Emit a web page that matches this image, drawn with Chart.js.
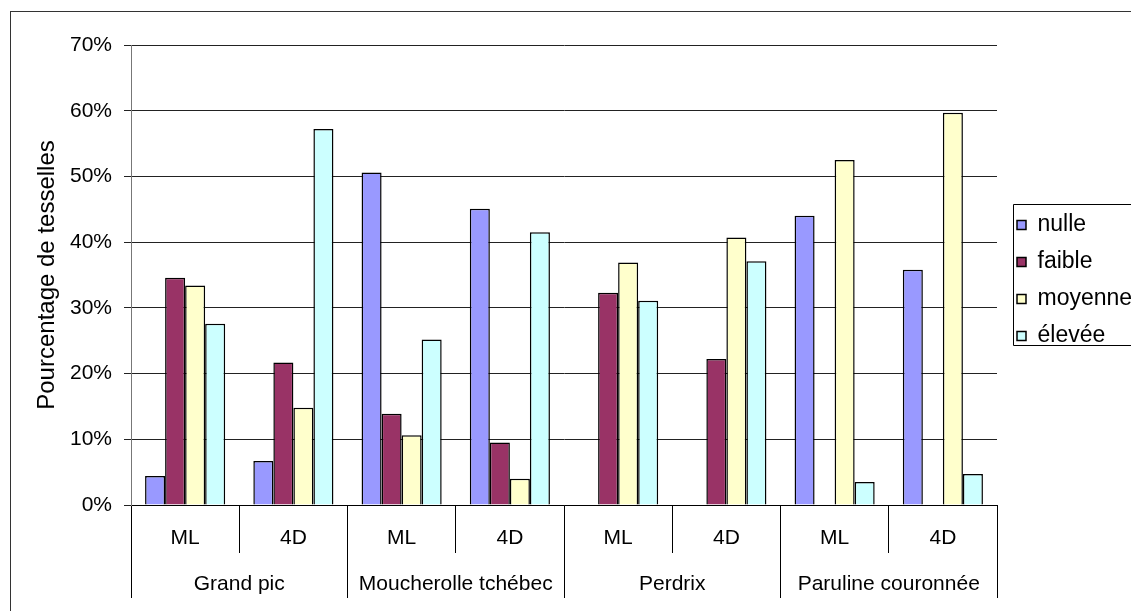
<!DOCTYPE html>
<html>
<head>
<meta charset="utf-8">
<script src="https://cdn.jsdelivr.net/npm/chart.js@4/dist/chart.umd.min.js"></script>
<style>
html,body{margin:0;padding:0;background:#fff;overflow:hidden;width:1131px;height:611px;}
#frame{position:absolute;left:10px;top:11px;width:2000px;height:2000px;border-left:1px solid #333;border-top:1px solid #333;}
#c{position:absolute;left:0;top:0;}
</style>
</head>
<body>
<div id="frame"></div>
<canvas id="c" width="1131" height="611"></canvas>
<script>
const categories = ['ML','4D','ML','4D','ML','4D','ML','4D'];
const species = ['Grand pic','Moucherolle tchébec','Perdrix','Paruline couronnée'];
const seriesNames = ['nulle','faible','moyenne','élevée'];
const nulle   = [4.4, 6.7, 50.6, 45.1, 0, 0, 44.0, 35.8];
const faible  = [34.6, 21.7, 13.9, 9.5, 32.3, 22.2, 0, 0];
const moyenne = [33.4, 14.8, 10.6, 4.0, 36.9, 40.7, 52.5, 59.7];
const elevee  = [27.6, 57.2, 25.2, 41.5, 31.1, 37.1, 3.5, 4.7];
const yTicks = [0,10,20,30,40,50,60,70];
const colors = ['#9999FF','#993366','#FFFFCC','#CCFFFF'];

const FONT = "'Liberation Sans', Arial, sans-serif";
Chart.defaults.font.family = FONT;
Chart.defaults.color = '#000';

const legendBox = {
  id:'legendBox',
  afterDraw(chart){
    const lg = chart.legend;
    if(!lg || !lg.legendHitBoxes || !lg.legendHitBoxes.length) return;
    const hb = lg.legendHitBoxes;
    const ctx = chart.ctx;
    const x = Math.round(lg.left + 10) + 0.5;
    const first = hb[0], last = hb[hb.length-1];
    const top = Math.round(first.top + first.height/2 - 21) + 0.5;
    const bottom = Math.round(last.top + last.height/2 + 9) + 0.5;
    ctx.save();
    ctx.strokeStyle = '#000';
    ctx.lineWidth = 1;
    ctx.beginPath();
    ctx.moveTo(chart.width + 5, top);
    ctx.lineTo(x, top);
    ctx.lineTo(x, bottom);
    ctx.lineTo(chart.width + 5, bottom);
    ctx.stroke();
    ctx.restore();
  }
};

new Chart(document.getElementById('c'), {
  type:'bar',
  data:{
    labels: categories,
    datasets: [nulle, faible, moyenne, elevee].map((d,i)=>({
      label: seriesNames[i],
      data: d,
      backgroundColor: colors[i],
      borderColor: '#000',
      borderWidth: 1.5,
      categoryPercentage: 0.74,
      barPercentage: 1.0,
      xAxisID: 'x',
      yAxisID: 'y'
    }))
  },
  options:{
    responsive:false,
    animation:false,
    devicePixelRatio:1,
    layout:{padding:{left:30, top:45, bottom:13, right:0}},
    plugins:{
      tooltip:{enabled:false},
      legend:{
        position:'right',
        fullSize:false,
        maxWidth:128,
        title:{display:true, text:'', padding:0, font:{size:11, lineHeight:1}},
        labels:{
          boxWidth:9, boxHeight:9, padding:14,
          color:'#000',
          font:{size:23, family:FONT}
        }
      }
    },
    scales:{
      x:{
        type:'category',
        position:'bottom',
        weight:0,
        offset:true,
        grid:{drawOnChartArea:false, offset:true, tickLength:48, color:'#000', lineWidth:1},
        border:{display:true, color:'#000'},
        ticks:{font:{size:21}, padding:-27, maxRotation:0, autoSkip:false, color:'#000'},
        afterFit(s){ s.height = 48; }
      },
      x2:{
        type:'category',
        position:'bottom',
        weight:1,
        labels: species,
        offset:true,
        grid:{drawOnChartArea:false, offset:true, tickLength:45, color:'#000', lineWidth:1},
        border:{display:false},
        ticks:{font:{size:21}, padding:-26, maxRotation:0, autoSkip:false, color:'#000'},
        afterFit(s){ s.height = 45; }
      },
      y:{
        min:0, max:70,
        position:'left',
        afterBuildTicks(s){ s.ticks = yTicks.map(v=>({value:v})); },
        ticks:{callback:v=>v+'%', font:{size:21}, padding:12, color:'#000'},
        grid:{color:'#222', lineWidth:1, tickLength:7},
        border:{display:true, color:'#777'},
        title:{display:true, text:'Pourcentage de tesselles', font:{size:24}, padding:{top:3, bottom:0}, color:'#000'},
        afterFit(s){ s.width = 101; }
      },
      y2:{
        type:'linear',
        position:'right',
        display:true,
        grid:{display:false},
        border:{display:false},
        ticks:{display:false},
        afterFit(s){ s.width = 6; }
      }
    }
  },
  plugins:[legendBox]
});
</script>
</body>
</html>
